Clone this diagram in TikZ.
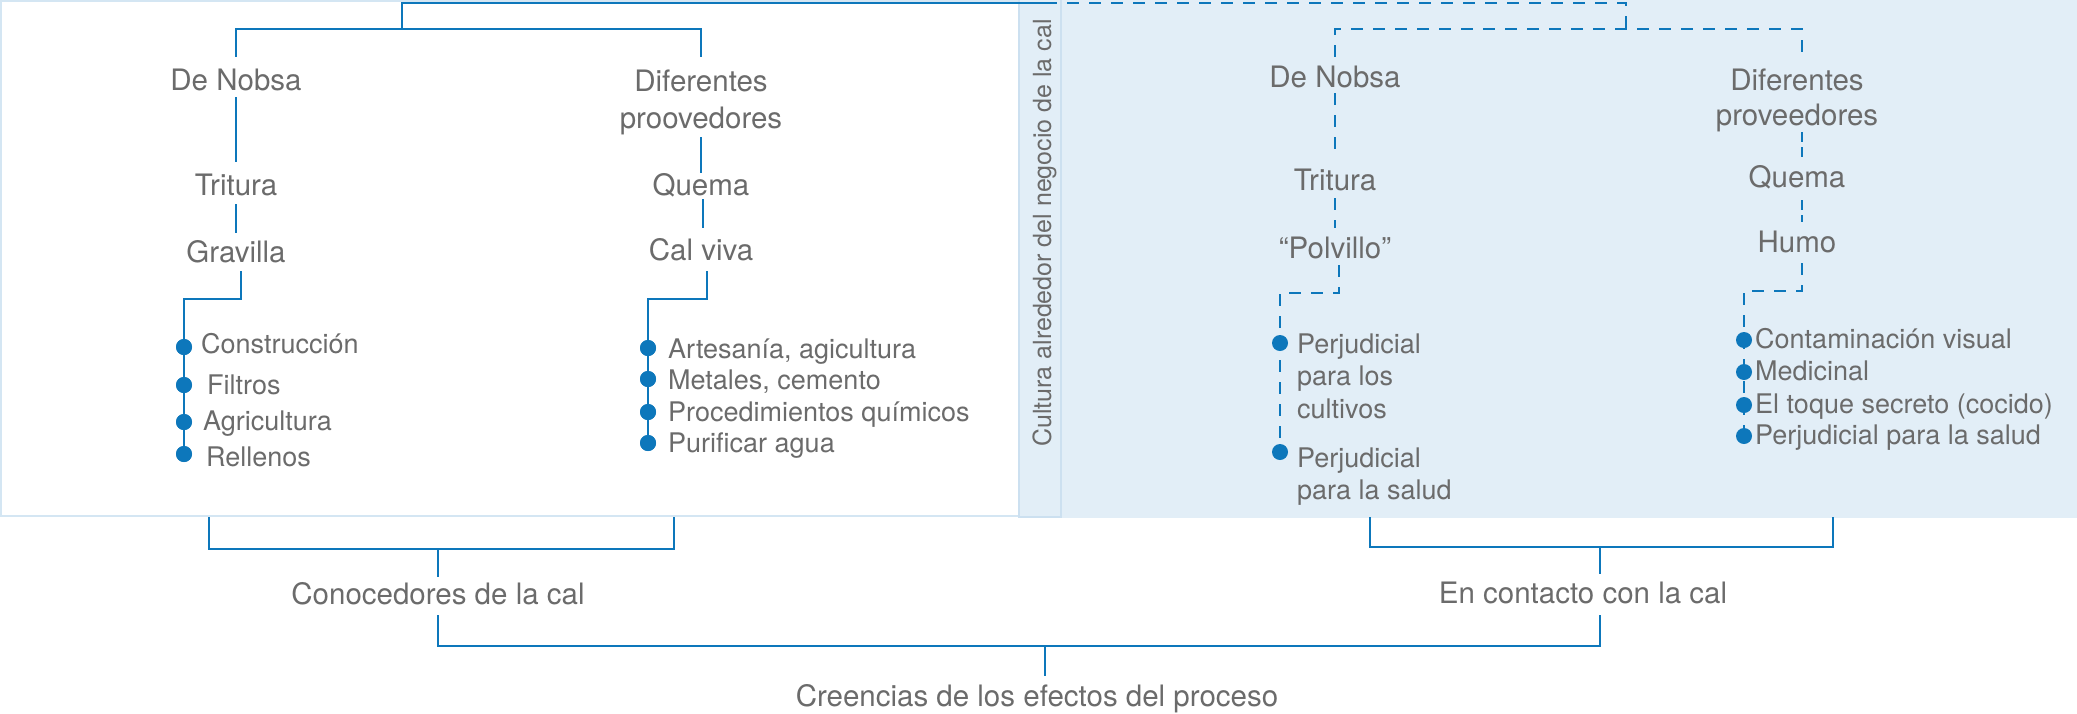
\documentclass[tikz,border=0pt]{standalone}
\usepackage{fontspec}
\usetikzlibrary{calc}
\newfontfamily\hvfont{TeX Gyre Heros}
\definecolor{lb}{HTML}{0D77BB}
\definecolor{tg}{HTML}{6B6B6B}
\definecolor{panelc}{HTML}{E2EEF7}
\definecolor{borderc}{HTML}{D4E6F3}
\definecolor{stripb}{HTML}{CCE0F0}
\newcommand{\mainf}{\hvfont\fontsize{29.5}{37}\selectfont}
\newcommand{\mainfb}{\hvfont\fontsize{29.5}{35}\selectfont}
\newcommand{\itemf}{\hvfont\fontsize{27}{32.5}\selectfont}
\newcommand{\rotf}{\hvfont\fontsize{25}{29}\selectfont}
\tikzset{
  ln/.style={draw=lb, line width=2.7pt},
  dl/.style={draw=lb, line width=2.7pt, dash pattern=on 12pt off 10pt},
  txt/.style={text=tg, font=\mainf, inner sep=0pt, text height=21.2pt, text depth=0pt, anchor=center},
  mtxt/.style={text=tg, inner sep=0pt, align=center, anchor=north},
  itm/.style={text=tg, font=\itemf, inner sep=0pt, text height=19.4pt, text depth=0pt, anchor=west},
  mitm/.style={text=tg, font=\itemf, inner sep=0pt, align=left, anchor=north west},
  dotn/.style={circle, fill=lb, inner sep=0pt, minimum size=16pt},
}
\begin{document}
\begin{tikzpicture}[x=1pt,y=-1pt]
\useasboundingbox (0,0) rectangle (2077,713);
\fill[white] (0,0) rectangle (2077,713);
% panels
\draw[draw=borderc, line width=2pt, fill=white] (1,1) rectangle (1020,516);
\fill[panelc] (1062,0) rectangle (2077,518);
\draw[draw=stripb, line width=2pt, fill=panelc] (1019,-2) rectangle (1061,517);
\node[text=tg, font=\rotf, inner sep=0pt, text height=18pt, text depth=0pt, rotate=90] (cult) at (1042,233) {Cultura alrededor del negocio de la cal};

% ---------- left tree (solid) ----------
\coordinate (tA) at (402,3);
\coordinate (tB) at (1045,3);
\coordinate (tC) at (1626,3);
\coordinate (hL) at (402,29);
\coordinate (hR) at (1626,29);

\node[txt] (LDen) at (236,80) {De Nobsa};
\node[mtxt, font=\mainf] (LDif) at (701,69.4) {Diferentes\\proovedores};
\node[txt] (LTri) at (236,185) {Tritura};
\node[txt] (LGra) at (236,252) {Gravilla};
\node[txt] (LQue) at (701,185) {Quema};
\node[txt] (LCal) at (701,250) {Cal viva};

\coordinate (kL) at (184,299);
\coordinate (kM) at (648,299);
\node[dotn] (dL1) at (184,347) {};
\node[dotn] (dL2) at (184,385) {};
\node[dotn] (dL3) at (184,422) {};
\node[dotn] (dL4) at (184,454) {};
\node[itm] (iL1) at (201,344) {Construcción};
\node[itm] (iL2) at (207,385) {Filtros};
\node[itm] (iL3) at (203,421) {Agricultura};
\node[itm] (iL4) at (206,457) {Rellenos};

\node[dotn] (dM1) at (648,348) {};
\node[dotn] (dM2) at (648,379) {};
\node[dotn] (dM3) at (648,412) {};
\node[dotn] (dM4) at (648,443) {};
\node[itm] (iM1) at (668,349) {Artesanía, agicultura};
\node[itm] (iM2) at (668,380) {Metales, cemento};
\node[itm] (iM3) at (668,412) {Procedimientos químicos};
\node[itm] (iM4) at (668,443) {Purificar agua};

\draw[ln] (hL) -- (tA) -- (tB);
\draw[dl] (tB) -- (tC) -- (hR);
\draw[ln] ($(LDen.north)+(0,-12.4)$) -- (LDen.north |- hL) -- (LDif.north |- hL) -- ($(LDif.north)+(0,-12.4)$);
\draw[ln] ($(LDen.south)+(0,6.4)$) -- ($(LTri.north)+(0,-12.4)$);
\draw[ln] ($(LTri.south)+(0,8.4)$) -- ($(LGra.north)+(0,-8.4)$);
\draw[ln] ($(LGra.south)+(5,8.4)$) -- ($(LGra.south |- kL)+(5,0)$) -- (kL) -- (dL4);
\draw[ln] ($(LDif.north)+(0,67.6)$) -- ($(LQue.north)+(0,-1.5)$);
\draw[ln] ($(LQue.south)+(2,3.4)$) -- ($(LCal.north)+(2,-11.4)$);
\draw[ln] ($(LCal.south)+(6,10.4)$) -- ($(LCal.south |- kM)+(6,0)$) -- (kM) -- (dM4);
\foreach \d in {dL1,dL2,dL3,dL4,dM1,dM2,dM3,dM4} \node[dotn] at (\d) {};

% ---------- right tree (dashed) ----------
\node[txt] (RDen) at (1335,77) {De Nobsa};
\node[txt] (RTri) at (1335,180) {Tritura};
\node[txt] (RPol) at (1335,248) {“Polvillo”};
\node[mtxt, font=\mainfb] (RDif) at (1797,68.4) {Diferentes\\proveedores};
\node[txt] (RQue) at (1797,177) {Quema};
\node[txt] (RHum) at (1797,242) {Humo};

\coordinate (kR) at (1280,293);
\coordinate (kS) at (1744,291);
\node[mitm] (iR1) at (1297,333.3) {Perjudicial\\para los\\cultivos};
\node[mitm] (iR2) at (1297,447.3) {Perjudicial\\para la salud};
\node[itm] (iS1) at (1755,339) {Contaminación visual};
\node[itm] (iS2) at (1755,371) {Medicinal};
\node[itm] (iS3) at (1755,404) {El toque secreto (cocido)};
\node[itm] (iS4) at (1755,435) {Perjudicial para la salud};

\draw[dl] ($(RDen.north)+(0,-9.4)$) -- (RDen.north |- hR) -- ($(RDif.north |- hR)+(5,0)$) -- ($(RDif.north)+(5,-11.4)$);
\draw[dl] ($(RDen.south)+(0,5.4)$) -- ($(RTri.north)+(0,-14.4)$);
\draw[dl] ($(RTri.south)+(0,7.4)$) -- ($(RPol.north)+(0,-9.4)$);
\draw[dl] ($(RPol.south)+(4,6.4)$) -- ($(RPol.south |- kR)+(4,0)$) -- (kR) -- (1280,452);
\draw[dl, dash pattern=on 10pt off 5pt] ($(RDif.north)+(5,63.6)$) -- ($(RQue.north)+(5,-9.4)$);
\draw[dl, dash pattern=on 10pt off 5pt] ($(RQue.south)+(5,12.4)$) -- ($(RHum.north)+(5,-9.4)$);
\draw[dl] ($(RHum.south)+(5,10.4)$) -- ($(RHum.south |- kS)+(5,0)$) -- (kS) -- (1744,436);

\node[dotn] (dR1) at (1280,343) {};
\node[dotn] (dR2) at (1280,452) {};
\node[dotn] (dS1) at (1744,340) {};
\node[dotn] (dS2) at (1744,372) {};
\node[dotn] (dS3) at (1744,405) {};
\node[dotn] (dS4) at (1744,436) {};

% ---------- bottom ----------
\coordinate (bL1) at (209,517);
\coordinate (bL2) at (674,517);
\coordinate (bLy) at (438,549);
\coordinate (bR1) at (1370,517);
\coordinate (bR2) at (1833,517);
\coordinate (bRy) at (1600,547);
\coordinate (cJ) at (1045,646);

\node[txt] (LCon) at (438,594) {Conocedores de la cal};
\node[txt] (RCon) at (1583,593) {En contacto con la cal};
\node[txt] (Cre) at (1037,696) {Creencias de los efectos del proceso};

\draw[ln] (bL1) -- (bL1 |- bLy) -- (bL2 |- bLy) -- (bL2);
\draw[ln] (bLy) -- ($(LCon.north)+(0,-6.4)$);
\draw[ln] (bR1) -- (bR1 |- bRy) -- (bR2 |- bRy) -- (bR2);
\draw[ln] (bRy) -- ($(bRy |- RCon.north)+(0,-8.4)$);
\draw[ln] ($(LCon.south)+(0,10.4)$) -- (LCon.south |- cJ) -- (bRy |- cJ) -- ($(bRy |- RCon.south)+(0,11.4)$);
\draw[ln] (cJ) -- ($(cJ |- Cre.north)+(0,-9.4)$);
\end{tikzpicture}
\end{document}
